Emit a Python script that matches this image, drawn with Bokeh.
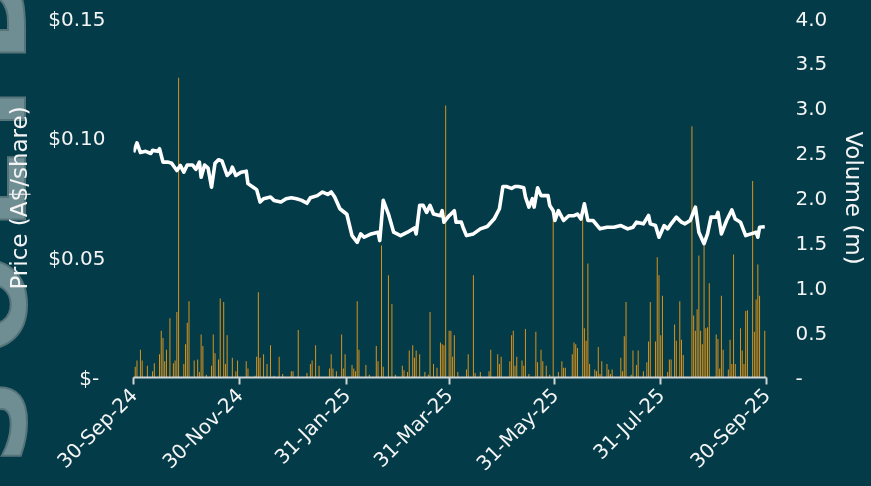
from math import pi
import numpy as np
import pandas as pd
from bokeh.plotting import figure
from bokeh.layouts import column
from bokeh.models import (Range1d, LinearAxis, FixedTicker, CustomJSTickFormatter,
                          Div, ColumnDataSource)
from bokeh.embed import file_html
from bokeh.resources import INLINE

# ---------------- data ----------------
price_dates = [
    "2024-09-30", "2024-10-02", "2024-10-04", "2024-10-07", "2024-10-10", "2024-10-11",
    "2024-10-14", "2024-10-15", "2024-10-17", "2024-10-20", "2024-10-22", "2024-10-25",
    "2024-10-27", "2024-10-29", "2024-10-31", "2024-11-03", "2024-11-05", "2024-11-07",
    "2024-11-08", "2024-11-10", "2024-11-12", "2024-11-14", "2024-11-16", "2024-11-18",
    "2024-11-20", "2024-11-23", "2024-11-25", "2024-11-26", "2024-11-28", "2024-12-01",
    "2024-12-04", "2024-12-05", "2024-12-08", "2024-12-10", "2024-12-12", "2024-12-14",
    "2024-12-18", "2024-12-20", "2024-12-24", "2024-12-27", "2024-12-30", "2025-01-02",
    "2025-01-05", "2025-01-08", "2025-01-10", "2025-01-14", "2025-01-17", "2025-01-20",
    "2025-01-22", "2025-01-24", "2025-01-27", "2025-01-31", "2025-02-03", "2025-02-06",
    "2025-02-08", "2025-02-10", "2025-02-14", "2025-02-18", "2025-02-19", "2025-02-21",
    "2025-02-24", "2025-02-27", "2025-03-03", "2025-03-07", "2025-03-11", "2025-03-12",
    "2025-03-14", "2025-03-16", "2025-03-18", "2025-03-20", "2025-03-22", "2025-03-26",
    "2025-03-27", "2025-03-28", "2025-03-31", "2025-04-03", "2025-04-04", "2025-04-07",
    "2025-04-08", "2025-04-10", "2025-04-14", "2025-04-18", "2025-04-22", "2025-04-26",
    "2025-04-29", "2025-05-01", "2025-05-03", "2025-05-06", "2025-05-08", "2025-05-10",
    "2025-05-13", "2025-05-14", "2025-05-16", "2025-05-18", "2025-05-19", "2025-05-21",
    "2025-05-23", "2025-05-27", "2025-05-28", "2025-05-30", "2025-05-31", "2025-06-02",
    "2025-06-05", "2025-06-08", "2025-06-11", "2025-06-13", "2025-06-15", "2025-06-17",
    "2025-06-19", "2025-06-22", "2025-06-26", "2025-06-30", "2025-07-04", "2025-07-08",
    "2025-07-12", "2025-07-15", "2025-07-17", "2025-07-21", "2025-07-24", "2025-07-25",
    "2025-07-28", "2025-07-30", "2025-08-02", "2025-08-04", "2025-08-06", "2025-08-09",
    "2025-08-12", "2025-08-14", "2025-08-17", "2025-08-20", "2025-08-22", "2025-08-25",
    "2025-08-27", "2025-08-29", "2025-09-01", "2025-09-02", "2025-09-04", "2025-09-07",
    "2025-09-10", "2025-09-12", "2025-09-15", "2025-09-18", "2025-09-21", "2025-09-24",
    "2025-09-25", "2025-09-26", "2025-09-29",
]
price_aud = [
    0.0941, 0.0980, 0.0940, 0.0945, 0.0936, 0.0949,
    0.0945, 0.0956, 0.0900, 0.0900, 0.0895, 0.0865,
    0.0886, 0.0858, 0.0888, 0.0888, 0.0870, 0.0900,
    0.0837, 0.0888, 0.0875, 0.0795, 0.0895, 0.0910,
    0.0905, 0.0844, 0.0858, 0.0879, 0.0844, 0.0858,
    0.0862, 0.0810, 0.0795, 0.0785, 0.0733, 0.0747,
    0.0754, 0.0740, 0.0733, 0.0747, 0.0751, 0.0747,
    0.0740, 0.0728, 0.0751, 0.0760, 0.0775, 0.0765,
    0.0775, 0.0754, 0.0705, 0.0682, 0.0593, 0.0565,
    0.0600, 0.0586, 0.0600, 0.0607, 0.0572, 0.0740,
    0.0683, 0.0607, 0.0593, 0.0607, 0.0625, 0.0600,
    0.0719, 0.0719, 0.0690, 0.0719, 0.0683, 0.0676,
    0.0697, 0.0649, 0.0676, 0.0697, 0.0649, 0.0649,
    0.0628, 0.0593, 0.0600, 0.0621, 0.0631, 0.0663,
    0.0705, 0.0798, 0.0798, 0.0790, 0.0798, 0.0798,
    0.0793, 0.0755, 0.0712, 0.0747, 0.0712, 0.0793,
    0.0760, 0.0760, 0.0719, 0.0697, 0.0656, 0.0697,
    0.0656, 0.0676, 0.0676, 0.0683, 0.0662, 0.0726,
    0.0656, 0.0656, 0.0621, 0.0628, 0.0628, 0.0635,
    0.0621, 0.0628, 0.0649, 0.0642, 0.0677, 0.0642,
    0.0635, 0.0586, 0.0635, 0.0621, 0.0642, 0.0670,
    0.0649, 0.0642, 0.0656, 0.0712, 0.0607, 0.0559,
    0.0600, 0.0670, 0.0670, 0.0690, 0.0600, 0.0656,
    0.0700, 0.0662, 0.0649, 0.0593, 0.0600, 0.0607,
    0.0586, 0.0628, 0.0630,
]

# volume: day offset from 30-Sep-24, volume in millions of shares
volume_start = "2024-09-30"
volume_day = [
    1, 2, 4, 5, 8, 11, 12, 15, 16, 17, 18, 19, 21, 23, 24, 25, 26, 29, 30, 31, 32, 35, 37,
    38, 39, 40, 42, 45, 46, 47, 49, 50, 52, 53, 54, 57, 59, 60, 65, 66, 70, 71, 72, 73, 75,
    77, 79, 81, 84, 86, 91, 92, 95, 100, 102, 103, 105, 107, 113, 114, 115, 117, 120, 121,
    122, 126, 127, 128, 129, 130, 134, 136, 140, 141, 143, 144, 147, 149, 151, 155, 156,
    158, 159, 161, 162, 163, 165, 168, 170, 171, 173, 175, 177, 178, 179, 180, 182, 183,
    184, 185, 187, 192, 193, 196, 197, 200, 205, 206, 210, 211, 212, 217, 218, 219, 220,
    221, 224, 225, 226, 228, 232, 233, 235, 236, 238, 240, 242, 245, 247, 248, 249, 253,
    254, 255, 256, 259, 260, 261, 262, 263, 266, 267, 268, 269, 270, 273, 274, 275, 276,
    281, 282, 283, 284, 287, 288, 290, 291, 294, 296, 297, 298, 301, 302, 303, 304, 305,
    308, 309, 310, 312, 313, 315, 316, 317, 322, 323, 324, 325, 326, 327, 328, 329, 330,
    331, 332, 336, 337, 338, 339, 340, 343, 344, 345, 346, 347, 350, 351, 352, 353, 354,
    357, 358, 359, 360, 361, 364,
]
volume_m = [
    0.12, 0.19, 0.31, 0.19, 0.13, 0.07, 0.16, 0.26, 0.52, 0.44, 0.18, 0.31, 0.66, 0.16, 0.19,
    0.73, 3.34, 0.15, 0.37, 0.61, 0.85, 0.19, 0.20,
    0.06, 0.48, 0.35, 0.03, 0.13, 0.48, 0.27, 0.20, 0.88, 0.84, 0.15, 0.47, 0.22, 0.07, 0.19,
    0.18, 0.10, 0.02, 0.23, 0.95, 0.22, 0.26,
    0.15, 0.36, 0.02, 0.23, 0.04, 0.07, 0.07, 0.53, 0.05, 0.15, 0.19, 0.36, 0.13, 0.10, 0.26,
    0.10, 0.07, 0.48, 0.10,
    0.26, 0.14, 0.10, 0.07, 0.85, 0.31, 0.14, 0.03, 0.35, 0.18, 1.47, 0.12, 1.14, 0.82, 0.03,
    0.13, 0.08,
    0.06, 0.30, 0.36, 0.22, 0.30, 0.26, 0.06, 0.03, 0.73, 0.15, 0.11, 0.39, 0.37, 0.36, 3.03,
    0.52, 0.52,
    0.23, 0.47, 0.06, 0.09, 0.26, 1.14, 0.05, 0.06, 0.07, 0.31, 0.26, 0.15, 0.23, 0.18, 0.47,
    0.52, 0.13,
    0.23, 0.19, 0.13, 0.54, 0.04, 0.51, 0.17, 0.31, 0.18, 0.13, 0.03, 1.80, 0.06, 0.18, 0.11,
    0.11, 0.26,
    0.39, 0.37, 0.33, 1.78, 0.55, 0.41, 1.27, 0.15, 0.09, 0.07, 0.34, 0.04, 0.18, 0.15, 0.09,
    0.04, 0.09,
    0.22, 0.07, 0.46, 0.84, 0.03, 0.30, 0.14, 0.30, 0.07, 0.17, 0.40, 0.84, 0.40, 1.34, 1.14,
    0.47, 0.91,
    0.06, 0.20, 0.20, 0.59, 0.41, 0.85, 0.42, 0.25, 2.80, 0.69, 0.52, 0.76, 1.36, 0.52, 0.37,
    1.48, 0.55,
    0.56, 1.05, 0.48, 0.43, 0.10, 0.91, 0.31, 0.09, 0.42, 0.15, 1.37, 0.15, 0.55, 0.30, 0.15,
    0.74, 0.75,
    2.19, 0.51, 0.87, 1.26, 0.91, 0.52,
]

x_start = "2024-09-30"
x_end = "2025-09-30"
tick_dates = ["2024-09-30", "2024-11-30", "2025-01-31", "2025-03-31",
              "2025-05-31", "2025-07-31", "2025-09-30"]
tick_labels = ["30-Sep-24", "30-Nov-24", "31-Jan-25", "31-Mar-25",
               "31-May-25", "31-Jul-25", "30-Sep-25"]
price_ticks = [0.0, 0.05, 0.10, 0.15]
volume_ticks = [0.0, 0.5, 1.0, 1.5, 2.0, 2.5, 3.0, 3.5, 4.0]
price_max = 0.15
volume_max = 4.0
watermark_text = "SOLID"


def to_ms(dates):
    return pd.to_datetime(pd.Series(dates)).values.astype("datetime64[ms]").astype("int64")


DAY_MS = 86400000
price_x = to_ms(price_dates)
vol_x = to_ms([volume_start])[0] + np.array(volume_day, dtype="int64") * DAY_MS
tick_ms = [int(v) for v in to_ms(tick_dates)]

BG = "#033b48"
TXT = "#f4f4f4"
GRID = "#d0d4d4"
FONT = "DejaVu Sans"
W, H = 871, 486

p = figure(width=W, height=H, x_axis_type=None, y_axis_type=None,
           x_range=Range1d(int(to_ms([x_start])[0]), int(to_ms([x_end])[0])),
           y_range=Range1d(0, price_max),
           output_backend="svg", toolbar_location=None,
           background_fill_color=BG, border_fill_color=None, outline_line_color=None,
           min_border_left=133, min_border_right=105, min_border_top=18, min_border_bottom=109)
p.extra_y_ranges = {"vol": Range1d(0, volume_max)}

vsrc = ColumnDataSource(dict(x=vol_x, top=volume_m))
p.vbar(x="x", top="top", width=0.58 * DAY_MS, source=vsrc, y_range_name="vol",
       fill_color="#d8921c", line_color=None)

psrc = ColumnDataSource(dict(x=price_x, y=price_aud))
p.line(x="x", y="y", source=psrc, line_color="white", line_width=3.6, line_join="round")

# left axis
la = LinearAxis(ticker=FixedTicker(ticks=price_ticks),
                formatter=CustomJSTickFormatter(
                    code="return tick == 0 ? '$-\u00a0' : '$' + tick.toFixed(2);"),
                axis_label="Price (A$/share)")
# right axis
ra = LinearAxis(y_range_name="vol", ticker=FixedTicker(ticks=volume_ticks),
                formatter=CustomJSTickFormatter(
                    code="return tick == 0 ? '-' : tick.toFixed(1);"),
                axis_label="Volume (m)")
for ax, st, lst in ((la, 28, 13), (ra, 29, 11)):
    ax.axis_line_color = None
    ax.major_tick_line_color = None
    ax.minor_tick_line_color = None
    ax.major_tick_out = 0
    ax.major_tick_in = 0
    ax.minor_tick_out = 0
    ax.major_label_standoff = st
    ax.axis_label_standoff = lst
    ax.major_label_text_font = FONT
    ax.major_label_text_font_size = "20px"
    ax.major_label_text_color = TXT
    ax.axis_label_text_font = FONT
    ax.axis_label_text_font_size = "23px"
    ax.axis_label_text_font_style = "normal"
    ax.axis_label_text_color = TXT
p.add_layout(la, "left")
p.add_layout(ra, "right")

# bottom axis
ba = LinearAxis(ticker=FixedTicker(ticks=tick_ms),
                major_label_overrides={t: l for t, l in zip(tick_ms, tick_labels)})
ba.axis_line_color = GRID
ba.axis_line_width = 2
ba.major_tick_line_color = GRID
ba.major_tick_line_width = 2
ba.major_tick_out = 7
ba.major_tick_in = 0
ba.minor_tick_line_color = None
ba.major_label_orientation = pi / 4
ba.major_label_standoff = 7
ba.major_label_text_font = FONT
ba.major_label_text_font_size = "20px"
ba.major_label_text_color = TXT
p.add_layout(ba, "below")

p.ygrid.ticker = FixedTicker(ticks=price_ticks[1:])
p.ygrid.grid_line_color = GRID
p.ygrid.grid_line_width = 2
p.xgrid.grid_line_color = None

# page background with the watermark (large rotated text at the left edge), behind the chart
wm = Div(text=("<div style=\"position:absolute; left:-76px; top:465px; "
               "transform-origin:0 0; transform:rotate(-90deg); white-space:nowrap; "
               "font-family:'DejaVu Sans'; font-weight:bold; font-size:120px; "
               "line-height:1; letter-spacing:23px; color:#6f8e94; "
               "-webkit-text-stroke:2px #557479;\">" + watermark_text + "</div>"),
         width=W, height=H,
         styles={"position": "fixed", "left": "0px", "top": "0px",
                 "width": "100vw", "height": "100vh", "margin": "0px", "padding": "0px",
                 "overflow": "hidden", "pointer-events": "none", "z-index": "-1",
                 "background-color": BG})

layout = column(wm, p, spacing=0)
open("out.html", "w").write(file_html(layout, INLINE))
